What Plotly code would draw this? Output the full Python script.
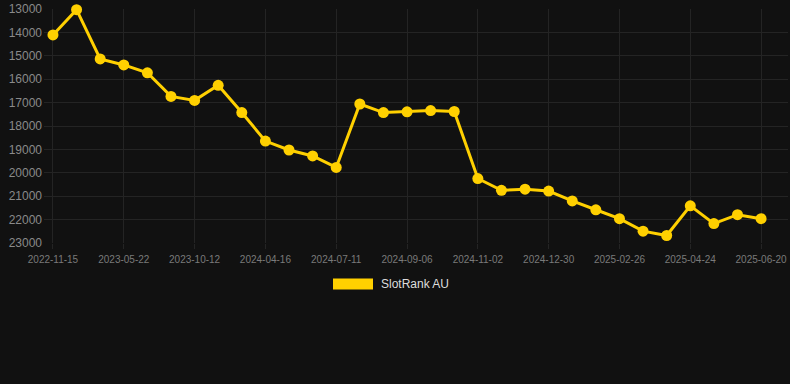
import plotly.graph_objects as go

dates = [
    "2022-11-15", "2023-01-16", "2023-03-20", "2023-05-22", "2023-07-08",
    "2023-08-25", "2023-10-12", "2023-12-13", "2024-02-14", "2024-04-16",
    "2024-05-15", "2024-06-13", "2024-07-11", "2024-07-30", "2024-08-18",
    "2024-09-06", "2024-09-25", "2024-10-14", "2024-11-02", "2024-11-21",
    "2024-12-11", "2024-12-30", "2025-01-18", "2025-02-07", "2025-02-26",
    "2025-03-17", "2025-04-05", "2025-04-24", "2025-05-13", "2025-06-01",
    "2025-06-20",
]
ranks = [
    14110, 13030, 15135, 15390, 15725, 16735, 16905, 16260, 17425, 18645,
    19025, 19280, 19770, 17060, 17425, 17395, 17340, 17380, 20245, 20750,
    20700, 20780, 21200, 21580, 21960, 22495, 22680, 21410, 22170, 21790,
    21960,
]
series_name = "SlotRank AU"
y_ticks = [13000, 14000, 15000, 16000, 17000, 18000, 19000, 20000, 21000, 22000, 23000]
x_tick_labels = dates[::3]

GOLD = "#FFD000"
BG = "#111111"
GRID = "#242424"

fig = go.Figure()
fig.add_trace(go.Scatter(
    x=dates, y=ranks, mode="lines+markers", name=series_name,
    line=dict(color=GOLD, width=3),
    marker=dict(color=GOLD, size=11),
    showlegend=False,
    cliponaxis=False,
))

fig.update_layout(
    width=790, height=384,
    paper_bgcolor=BG, plot_bgcolor=BG,
    margin=dict(l=44, r=2, t=6, b=141),
    font=dict(family="Arial, Liberation Sans, sans-serif"),
    xaxis=dict(
        type="category",
        range=[-0.38, 31.14],
        tickmode="array", tickvals=x_tick_labels, ticktext=x_tick_labels,
        tickangle=0,
        tickfont=dict(size=10, color="#7a7a7a"),
        showgrid=True, gridcolor=GRID, gridwidth=1,
        zeroline=False, showline=False,
        ticks="outside", ticklen=5, tickcolor=GRID,
        ticklabelstandoff=2,
        ticklabeloverflow="allow",
    ),
    yaxis=dict(
        range=[23000, 13000],
        tickmode="array", tickvals=y_ticks,
        ticktext=[str(v) for v in y_ticks],
        tickfont=dict(size=12, color="#8a8a8a"),
        showgrid=True, gridcolor=GRID, gridwidth=1,
        zeroline=False, showline=False,
        ticks="", ticklabelstandoff=1,
        ticklabeloverflow="allow",
    ),
    shapes=[dict(
        type="rect", xref="paper", yref="paper",
        x0=(333 - 44) / 744, x1=(373 - 44) / 744,
        y0=(384 - 141 - 290) / 237, y1=(384 - 141 - 279) / 237,
        fillcolor=GOLD, line=dict(width=0),
    )],
    annotations=[dict(
        text=series_name, xref="paper", yref="paper",
        x=(379 - 44) / 744, y=(384 - 141 - 284.5) / 237,
        xanchor="left", yanchor="middle", showarrow=False,
        font=dict(size=12, color="#dddddd"),
    )],
)

fig.write_html(
    "out.html",
    config={"displayModeBar": False},
    post_script="document.body.style.margin='0';document.body.style.background='#111111';",
)
